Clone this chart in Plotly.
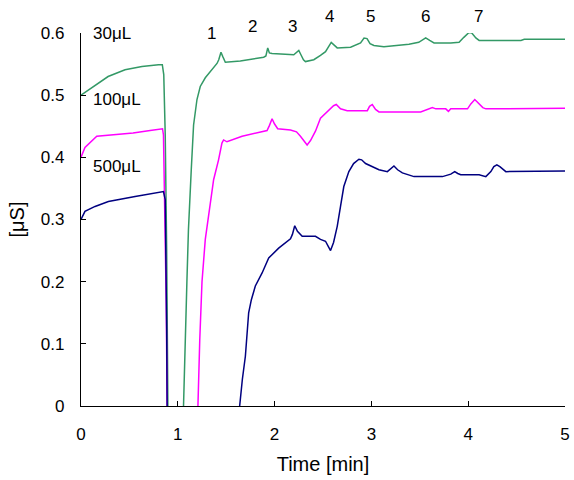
import plotly.graph_objects as go

# ---- data (time in min, conductance in µS) ----
t_30 = [0, 0.145, 0.28, 0.455, 0.63, 0.80, 0.84, 0.855, 0.862, 0.87, 0.885, 0.897, 0.90,
        None,
        1.056, 1.059, 1.094, 1.11, 1.139, 1.163, 1.198, 1.232, 1.284, 1.335, 1.405, 1.423, 1.446,
        1.465, 1.491, 1.646, 1.887, 1.91, 1.929, 1.946, 1.974, 2.198, 2.226, 2.25, 2.272, 2.298,
        2.319, 2.405, 2.474, 2.526, 2.585, 2.619, 2.647, 2.785, 2.854, 2.888, 2.924, 2.955, 2.986,
        3.026, 3.129, 3.388, 3.489, 3.561, 3.602, 3.647, 3.82, 3.906, 3.955, 4.009, 4.037, 4.079,
        4.113, 4.545, 4.579, 5.0]
v_30 = [0.500, 0.515, 0.530, 0.541, 0.546, 0.549, 0.549, 0.533, 0.480, 0.437, 0.252, 0.0, -0.05,
        None,
        -0.05, 0.0, 0.200, 0.284, 0.380, 0.452, 0.493, 0.514, 0.528, 0.538, 0.551, 0.557, 0.569,
        0.562, 0.553, 0.555, 0.561, 0.563, 0.576, 0.568, 0.567, 0.565, 0.569, 0.572, 0.565, 0.557,
        0.554, 0.557, 0.564, 0.570, 0.585, 0.580, 0.576, 0.577, 0.581, 0.584, 0.592, 0.591, 0.583,
        0.580, 0.578, 0.582, 0.585, 0.592, 0.588, 0.584, 0.584, 0.585, 0.593, 0.601, 0.600, 0.592,
        0.588, 0.588, 0.590, 0.590]

t_100 = [0, 0.041, 0.163, 0.352, 0.538, 0.714, 0.842, 0.852, 0.864, 0.88, 0.89, 0.893,
         None,
         1.206, 1.208, 1.227, 1.25, 1.284, 1.335, 1.37, 1.421, 1.456, 1.473, 1.508, 1.664, 1.922,
         1.946, 1.974, 1.998, 2.032, 2.164, 2.226, 2.267, 2.298, 2.336, 2.371, 2.422, 2.474, 2.56,
         2.609, 2.637, 2.681, 2.75, 2.958, 2.981, 3.009, 3.043, 3.078, 3.509, 3.571, 3.63, 3.665,
         3.768, 3.796, 3.82, 3.993, 4.027, 4.068, 4.110, 4.151, 4.182, 4.614, 4.63, 5.0]
v_100 = [0.400, 0.416, 0.434, 0.436, 0.439, 0.443, 0.446, 0.436, 0.332, 0.171, 0.0, -0.05,
         None,
         -0.05, 0.0, 0.107, 0.200, 0.268, 0.321, 0.364, 0.396, 0.423, 0.428, 0.425, 0.434, 0.443,
         0.451, 0.462, 0.454, 0.446, 0.444, 0.441, 0.434, 0.427, 0.420, 0.427, 0.442, 0.463, 0.475,
         0.483, 0.485, 0.478, 0.475, 0.475, 0.482, 0.485, 0.477, 0.473, 0.473, 0.476, 0.480, 0.478,
         0.478, 0.474, 0.478, 0.478, 0.486, 0.493, 0.487, 0.480, 0.478, 0.478, 0.479, 0.479]

t_500 = [0, 0.041, 0.145, 0.283, 0.559, 0.818, 0.852, 0.870, 0.877, 0.885, 0.89, 0.892,
         None,
         1.636, 1.639, 1.667, 1.698, 1.732, 1.76, 1.801, 1.871, 1.939, 2.042, 2.164, 2.184, 2.208,
         2.236, 2.285, 2.422, 2.474, 2.526, 2.557, 2.578, 2.609, 2.647, 2.681, 2.715, 2.767, 2.816,
         2.871, 2.899, 2.94, 3.078, 3.165, 3.199, 3.233, 3.271, 3.32, 3.44, 3.734, 3.82, 3.861,
         3.892, 3.923, 4.113, 4.182, 4.234, 4.265, 4.296, 4.327, 4.389, 4.752, 4.769, 5.0]
v_500 = [0.300, 0.313, 0.321, 0.329, 0.337, 0.345, 0.345, 0.332, 0.268, 0.123, 0.0, -0.05,
         None,
         -0.05, 0.0, 0.043, 0.080, 0.150, 0.171, 0.193, 0.214, 0.238, 0.254, 0.269, 0.276, 0.290,
         0.281, 0.273, 0.273, 0.268, 0.265, 0.256, 0.250, 0.263, 0.289, 0.321, 0.353, 0.377, 0.390,
         0.397, 0.396, 0.390, 0.380, 0.377, 0.382, 0.386, 0.380, 0.375, 0.369, 0.369, 0.373, 0.377,
         0.374, 0.372, 0.372, 0.369, 0.377, 0.385, 0.388, 0.385, 0.377, 0.377, 0.378, 0.378]

series_names = ["30μL", "100μL", "500μL"]
series_colors = ["#339966", "#ff00ff", "#000080"]
label_y = [0.600, 0.493, 0.385]

peak_labels = ["1", "2", "3", "4", "5", "6", "7"]
peak_x = [1.345, 1.77, 2.18, 2.57, 2.99, 3.56, 4.11]
peak_y = [0.600, 0.611, 0.611, 0.626, 0.626, 0.626, 0.626]

x_range = [0, 5]
y_range = [0, 0.6]
x_tickvals = [0, 1, 2, 3, 4, 5]
y_tickvals = [0, 0.1, 0.2, 0.3, 0.4, 0.5, 0.6]
y_ticktext = ["0", "0.1", "0.2", "0.3", "0.4", "0.5", "0.6"]

FONT = "Liberation Sans, Arial, sans-serif"
FS = 17

fig = go.Figure()
for tx, vy, name, col in zip([t_30, t_100, t_500], [v_30, v_100, v_500], series_names, series_colors):
    fig.add_trace(go.Scatter(x=tx, y=vy, mode="lines", name=name,
                             line=dict(color=col, width=1.5), connectgaps=False,
                             showlegend=False))

for name, yy in zip(series_names, label_y):
    fig.add_annotation(x=0.1, y=(yy - y_range[0]) / (y_range[1] - y_range[0]), xref="x", yref="paper",
                       text=name, showarrow=False, xanchor="left", yanchor="middle",
                       font=dict(size=FS, color="black", family=FONT))

for lab, px, py in zip(peak_labels, peak_x, peak_y):
    fig.add_annotation(x=px, y=(py - y_range[0]) / (y_range[1] - y_range[0]), xref="x", yref="paper",
                       text=lab, showarrow=False, xanchor="center", yanchor="middle",
                       font=dict(size=FS, color="black", family=FONT))

fig.update_layout(
    width=574, height=480,
    margin=dict(l=81, r=9, t=33, b=74, autoexpand=False),
    paper_bgcolor="white", plot_bgcolor="white",
    font=dict(family=FONT, size=FS, color="black"),
    xaxis=dict(range=x_range, tickvals=x_tickvals, showgrid=False, zeroline=False,
               showline=True, linecolor="black", linewidth=1.2, automargin=False,
               ticks="inside", ticklen=5, tickcolor="black", ticklabelstandoff=12,
               title=dict(text="Time [min]", standoff=14)),
    yaxis=dict(range=y_range, tickvals=y_tickvals, ticktext=y_ticktext, showgrid=False,
               zeroline=False, showline=True, linecolor="black", linewidth=1.2, automargin=False,
               ticks="inside", ticklen=5, tickcolor="black", ticklabelstandoff=12,
               title=dict(text="[μS]", standoff=10)),
)

fig.write_html("out.html")
